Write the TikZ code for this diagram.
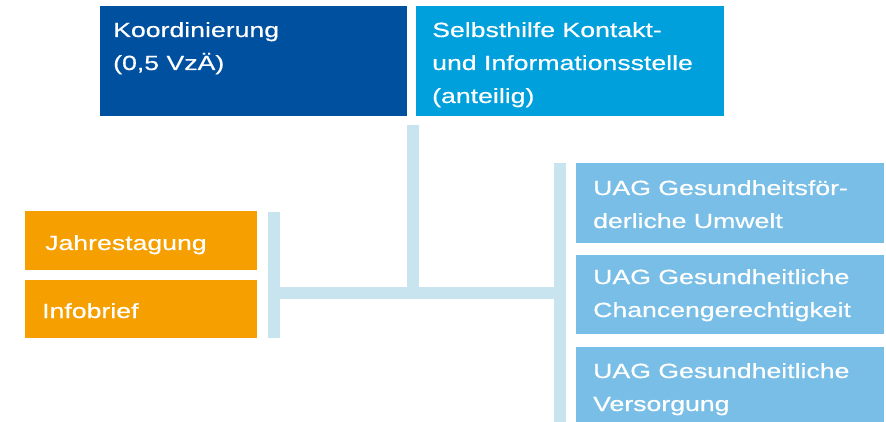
\documentclass[tikz,border=0pt]{standalone}
\usepackage{fontspec}
\setmainfont{Liberation Sans}[FakeStretch=1.3,FakeBold=0.5]
\definecolor{dblue}{HTML}{0050A0}
\definecolor{mblue}{HTML}{00A0DC}
\definecolor{lblue}{HTML}{78BEE6}
\definecolor{orng}{HTML}{F5A000}
\definecolor{conn}{HTML}{C8E4EE}
\tikzset{
  box/.style={rectangle, anchor=north west, inner sep=0pt, draw=none},
  txt/.style={anchor=base west, inner sep=0pt, text=white,
    font=\fontsize{20.5}{33}\selectfont},
  link/.style={draw=conn, line width=12pt}
}
\newcommand{\lines}[1]{\begin{tabular}[t]{@{}l@{}}#1\end{tabular}}
\begin{document}
\begin{tikzpicture}[x=1pt,y=-1pt]
\useasboundingbox (0,0) rectangle (886,422);
% boxes
\node[box, fill=dblue, minimum width=307pt, minimum height=110pt] (koord) at (100,6) {};
\node[box, fill=mblue, minimum width=308pt, minimum height=110pt] (selbst) at (416,6) {};
\node[box, fill=orng, minimum width=232pt, minimum height=59pt] (jahr) at (25,211) {};
\node[box, fill=orng, minimum width=232pt, minimum height=58pt] (info) at (25,280) {};
\node[box, fill=lblue, minimum width=308pt, minimum height=80pt] (uag1) at (576,163) {};
\node[box, fill=lblue, minimum width=308pt, minimum height=79pt] (uag2) at (576,255) {};
\node[box, fill=lblue, minimum width=308pt, minimum height=80pt] (uag3) at (576,347) {};
% texts
\node[txt] (koordT) at (113,37) {\lines{Koordinierung\\(0,5 VzÄ)}};
\node[txt] (selbstT) at (432,37) {\lines{Selbsthilfe Kontakt-\\und Informationsstelle\\(anteilig)}};
\node[txt] (jahrT) at (45,250) {Jahrestagung};
\node[txt] (infoT) at (42,318) {Infobrief};
\node[txt] (uag1T) at (593,195) {\lines{UAG Gesundheitsför-\\derliche Umwelt}};
\node[txt] (uag2T) at (593,284) {\lines{UAG Gesundheitliche\\Chancengerechtigkeit}};
\node[txt] (uag3T) at (593,378) {\lines{UAG Gesundheitliche\\Versorgung}};
% connectors
\coordinate (top) at (413,125);
\coordinate (mid) at (413,293);
\coordinate (lt) at (273.5,212);
\coordinate (lb) at (273.5,338);
\coordinate (lm) at (273.5,293);
\coordinate (rt) at (559.5,163);
\coordinate (rb) at (559.5,422);
\coordinate (rm) at (559.5,293);
\draw[link] (top) -- (mid);
\draw[link] (lm) -- (rm);
\draw[link] (lt) -- (lb);
\draw[link] (rt) -- (rb);
\end{tikzpicture}
\end{document}
